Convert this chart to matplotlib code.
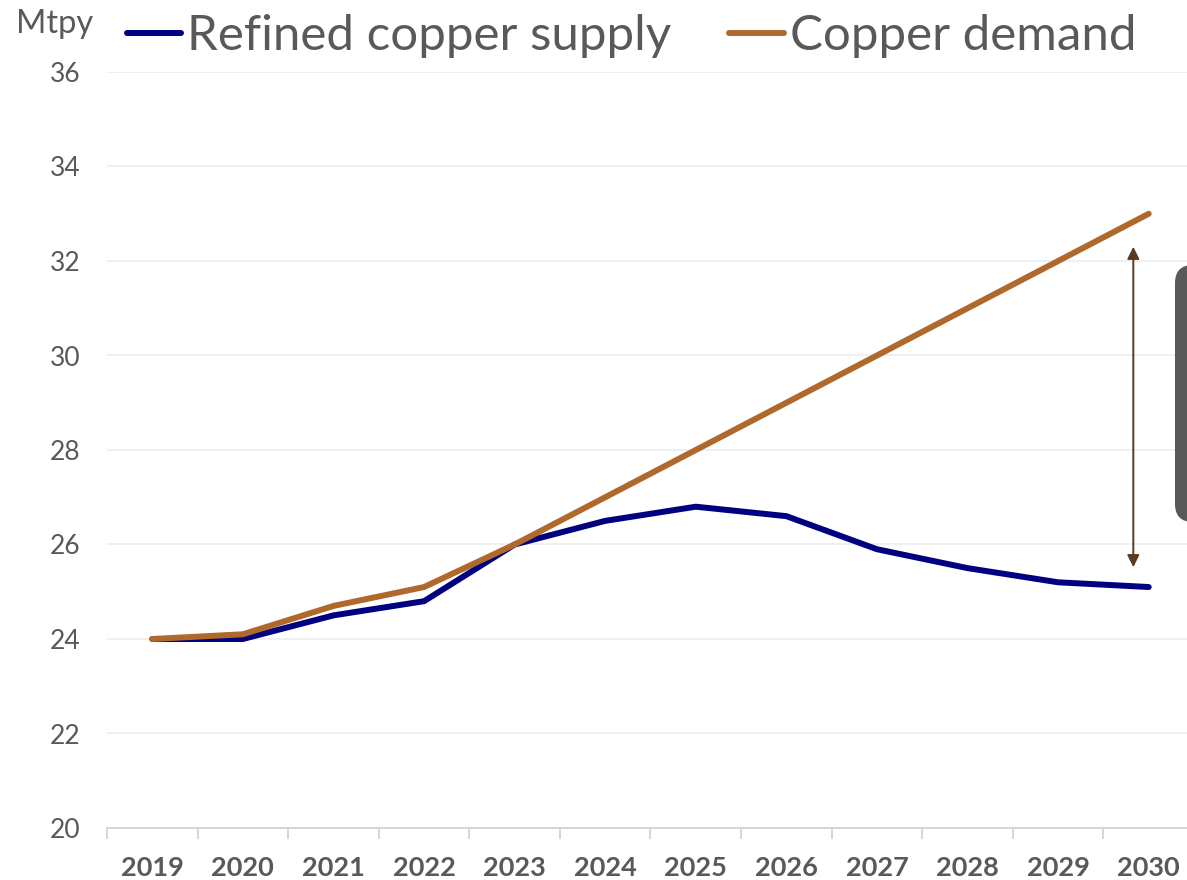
import matplotlib.pyplot as plt
import matplotlib.patches as mpatches
from matplotlib.transforms import IdentityTransform

years = ['2019', '2020', '2021', '2022', '2023', '2024',
         '2025', '2026', '2027', '2028', '2029', '2030']
supply = [24.0, 24.0, 24.5, 24.8, 26.0, 26.5, 26.8, 26.6, 25.9, 25.5, 25.2, 25.1]
demand = [24.0, 24.1, 24.7, 25.1, 26.0, 27.0, 28.0, 29.0, 30.0, 31.0, 32.0, 33.0]

grey = '#595959'
blue = '#000080'
orange = '#B0692D'

plt.rcParams['font.family'] = ['Lato', 'DejaVu Sans']

fig = plt.figure(figsize=(11.87, 8.80), dpi=100)
ax = fig.add_axes([107 / 1187, 1 - 828 / 880, 1087 / 1187, 756 / 880])

x = list(range(len(years)))
ax.plot(x, supply, color=blue, lw=4.3, solid_capstyle='round',
        solid_joinstyle='round', label='Refined copper supply', zorder=3)
ax.plot(x, demand, color=orange, lw=4.3, solid_capstyle='round',
        solid_joinstyle='round', label='Copper demand', zorder=4)

ax.set_xlim(-0.5, len(years) - 0.5)
ax.set_ylim(20, 36)
ax.set_yticks(range(20, 37, 2))
ax.set_xticks(x)
ax.set_xticklabels(years, fontweight='bold')
ax.set_xticks([i - 0.5 for i in range(len(years) + 1)], minor=True)

ax.grid(axis='y', color='#EDEDED', lw=1.2, zorder=0)
for s in ['top', 'right', 'left']:
    ax.spines[s].set_visible(False)
ax.spines['bottom'].set_color('#D0D0D0')
ax.spines['bottom'].set_linewidth(1.2)

ax.tick_params(axis='y', length=0, labelsize=19, labelcolor=grey, pad=19)
ax.tick_params(axis='x', which='major', length=0, labelsize=19.5,
               labelcolor=grey, pad=20)
ax.tick_params(axis='x', which='minor', length=8, width=1.2, color='#D0D0D0')

# gap arrow
ax.annotate('', xy=(10.83, 32.3), xytext=(10.83, 25.52),
            arrowprops=dict(arrowstyle='<|-|>', color='#5C3A1E', lw=1.4,
                            mutation_scale=18, shrinkA=0, shrinkB=0))

# cropped callout box at the right edge
box = mpatches.FancyBboxPatch((1175, 880 - 522), 60, 257,
                              boxstyle='round,pad=0,rounding_size=18',
                              transform=IdentityTransform(),
                              facecolor=grey, edgecolor='none')
fig.patches.append(box)

fig.text(55 / 1187, 1 - 24 / 880, 'Mtpy', color=grey, fontsize=23.5,
         ha='center', va='center')

leg = fig.legend(loc='center left', bbox_to_anchor=(127 / 1187, 1 - 36 / 880),
                 ncol=2, frameon=False, fontsize=35.5, handlelength=1.1,
                 handletextpad=0.12, columnspacing=1.18, borderpad=0,
                 borderaxespad=0)
for t in leg.get_texts():
    t.set_color(grey)

fig.savefig('out.png', dpi=100)
